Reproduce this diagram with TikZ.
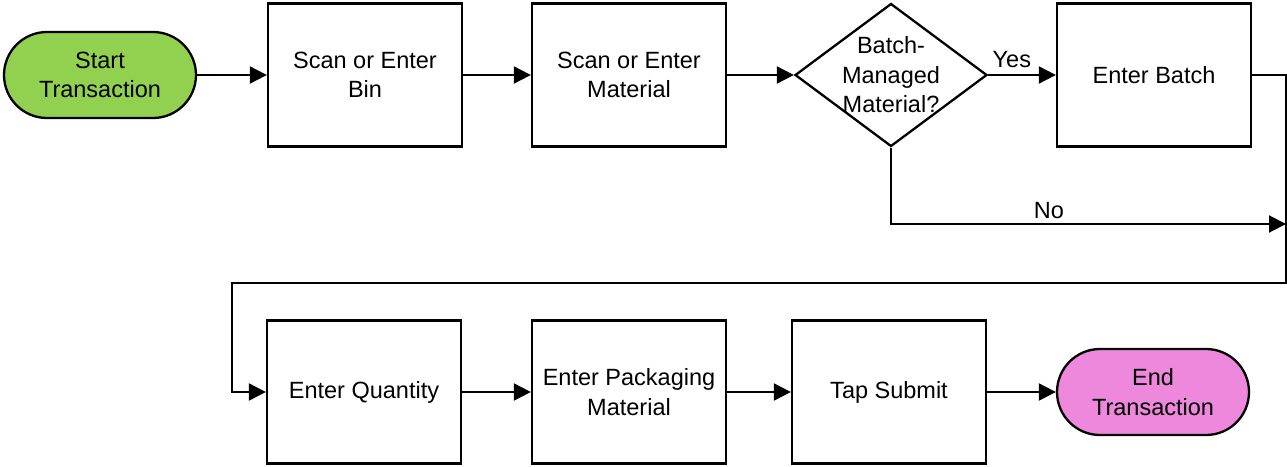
\documentclass[tikz,border=0pt]{standalone}
\usepackage{fontspec}
\setmainfont{Liberation Sans}
\usetikzlibrary{positioning,arrows.meta,shapes.geometric}
\definecolor{startgreen}{HTML}{92D050}
\definecolor{endpink}{HTML}{EE88DC}

\begin{document}
\begin{tikzpicture}[x=1pt,y=-1pt,line width=2pt,
	every node/.style={font=\fontsize{23.5}{29.5}\selectfont,align=center},
	box/.style={draw,line width=2.3pt,minimum width=194pt,minimum height=143pt},
	term/.style={draw,line width=2.3pt,rounded corners=43pt,minimum width=192pt,minimum height=86pt},
	flow/.style={-{Triangle[length=17pt,width=17pt]}}]
\useasboundingbox (0,0) rectangle (1287,466);
\node[term,fill=startgreen] (start) at (100,75) {Start\\Transaction};
\foreach \n/\x/\y/\t in {bin/365/75/Scan or Enter\\Bin,mat/629/75/Scan or Enter\\Material,batch/1154/75/Enter Batch,qty/364/392/Enter Quantity,pack/629/392/Enter Packaging\\Material,tap/889/392/Tap Submit}
	\node[box] (\n) at (\x,\y) {\t};
\node[draw,line width=2.3pt,diamond,minimum width=192pt,minimum height=143pt,inner sep=0pt,
	label={[align=center]center:Batch-\\Managed\\Material?}] (dec) at (891,75) {};
\node[term,fill=endpink] (end) at (1153,392) {End\\Transaction};
\coordinate (noend) at (1286,224);
\coordinate (rtop) at (1286,283);
\coordinate (ltop) at (232,283);
\foreach \a/\b in {start/bin,bin/mat,mat/dec,qty/pack,pack/tap,tap/end}
	\draw[flow](\a)--(\b);
\draw[flow](dec)--node[pos=0.35,above=3pt]{Yes}(batch);
\draw[flow](dec.south)|-node[pos=0.7,above=1pt]{No}(noend);
\draw[flow](batch.east)-|(rtop)--(ltop)|-(qty.west);
\end{tikzpicture}
\end{document}
